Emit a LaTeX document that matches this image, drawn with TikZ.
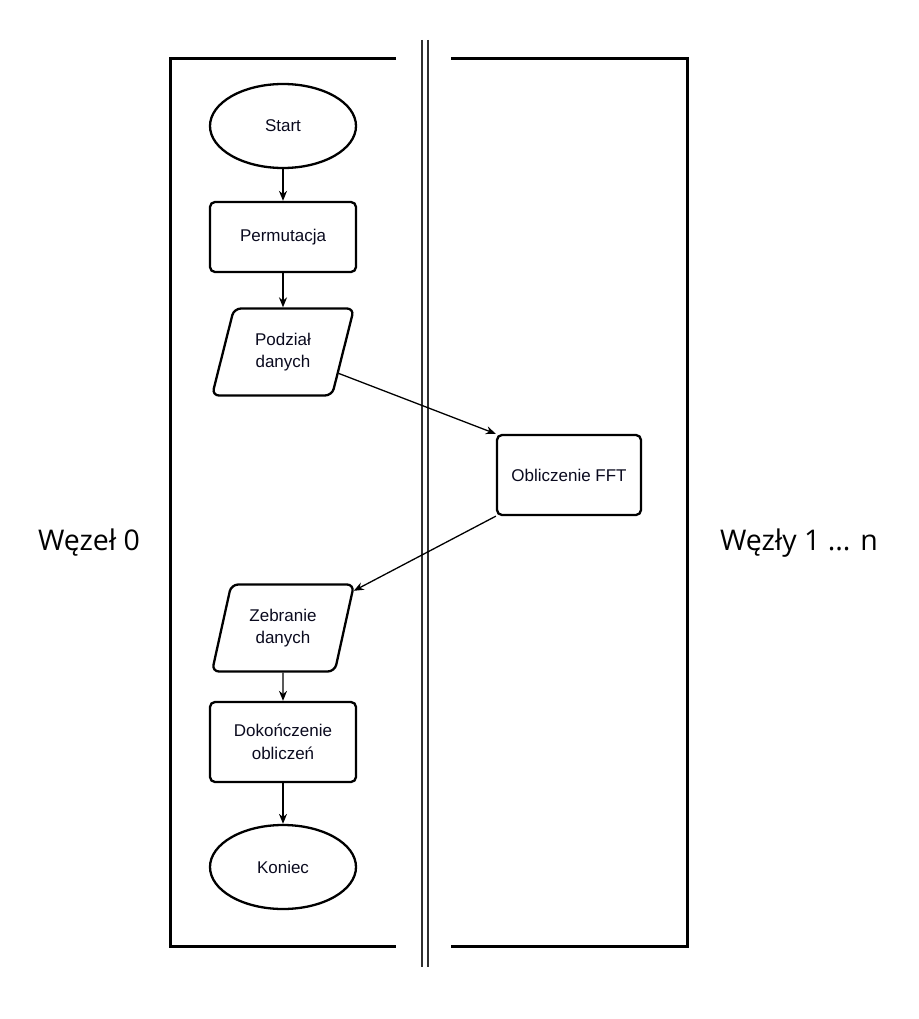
\documentclass[tikz,border=0pt]{standalone}
\usepackage{fontspec}
\setmainfont{Liberation Sans}
\newfontfamily\laneFont{Open Sans}
\usetikzlibrary{arrows.meta,shapes.geometric}
\definecolor{fcink}{HTML}{000000}
\definecolor{fcrule}{HTML}{303030}
\definecolor{fctext}{HTML}{0A0A1E}
\tikzset{
  termBox/.style={ellipse, draw=fcink, line width=2.3pt, minimum width=146pt, minimum height=84pt, inner sep=0pt, align=center, text=fctext, font=\fontsize{17}{22.5}\selectfont},
  procBox/.style={rectangle, draw=fcink, rounded corners=5pt, line width=2.3pt, inner sep=0pt, align=center, text=fctext, font=\fontsize{17}{22.5}\selectfont},
  ioBox/.style={trapezium, trapezium left angle=72, trapezium right angle=108, trapezium stretches=true, draw=fcink, rounded corners=7pt, line width=2.3pt, minimum width=143pt, minimum height=87pt, inner sep=0pt, align=center, text=fctext, font=\fontsize{17}{22.5}\selectfont},
  flowArrow/.style={-{Stealth[length=10pt,width=8pt]}, line width=1.3pt, draw=fcink},
  laneRule/.style={line width=3pt, draw=fcink},
  splitRule/.style={line width=1.3pt, draw=fcrule},
  laneLabel/.style={font=\laneFont\fontsize{28.5}{33}\selectfont, text=fcink}
}
\begin{document}
\begin{tikzpicture}[x=1pt,y=-1pt]
  \useasboundingbox (0,0) rectangle (918,1019);
  \draw[laneRule] (396,59) -- (170,59) -- (170,946) -- (396,946);
  \draw[laneRule] (451,59) -- (687,59) -- (687,946) -- (451,946);
  \draw[splitRule] (422,40) -- (422,967);
  \draw[splitRule] (428,40) -- (428,967);
  \node[laneLabel] (lane0) at (89,543) {Węzeł 0};
  \node[laneLabel] (laneN) at (799,543) {Węzły 1 ... n};
  \node[termBox] (start) at (283,126) {Start};
  \node[procBox, minimum width=146pt, minimum height=70pt] (perm) at (283,237) {Permutacja};
  \node[ioBox] (podzial) at (283,352) {Podział\\danych};
  \node[procBox, minimum width=144pt, minimum height=80pt] (fft) at (569,475) {Obliczenie FFT};
  \node[ioBox] (zebranie) at (283,628) {Zebranie\\danych};
  \node[procBox, minimum width=146pt, minimum height=80pt] (dokon) at (283,742) {Dokończenie\\obliczeń};
  \node[termBox] (koniec) at (283,867) {Koniec};
  \draw[flowArrow] (start) -- (perm);
  \draw[flowArrow] (perm) -- (podzial);
  \draw[flowArrow] (podzial) -- (fft.north west);
  \draw[flowArrow] (fft.south west) -- (zebranie);
  \draw[flowArrow] (zebranie) -- (dokon);
  \draw[flowArrow] (dokon) -- (koniec);
\end{tikzpicture}
\end{document}
